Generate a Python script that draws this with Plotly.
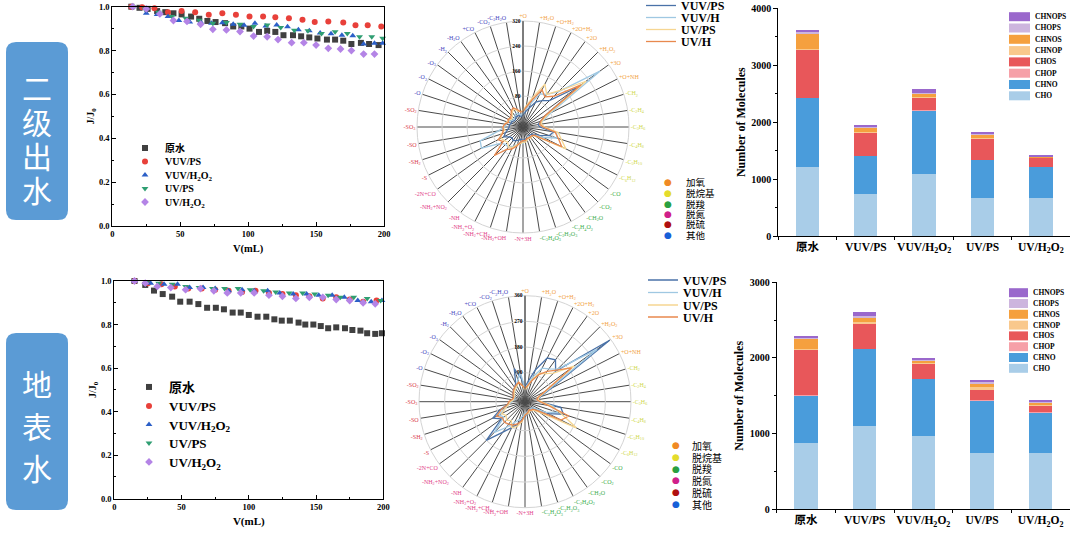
import re
import plotly.graph_objects as go

W, H = 1080, 535
SERIF = "Liberation Serif, Noto Sans CJK SC, serif"
CJK = "Noto Sans CJK SC"

# ---------------- flux decline data (二级出水) ----------------
sec_raw_v = [14, 20, 26, 33, 39, 45, 51, 58, 64, 70, 76, 83, 89, 95, 101, 108, 114, 120, 126, 133, 139, 145, 151, 158, 164, 170, 176, 183, 189, 196]
sec_raw_j = [1.0, 0.995, 0.99, 0.98, 0.975, 0.97, 0.965, 0.955, 0.945, 0.935, 0.93, 0.925, 0.91, 0.91, 0.9, 0.885, 0.89, 0.885, 0.87, 0.87, 0.865, 0.86, 0.855, 0.85, 0.85, 0.845, 0.83, 0.835, 0.83, 0.825]
sec_vuvps_v = [14, 22, 31, 41, 51, 61, 71, 81, 91, 101, 111, 120, 130, 140, 149, 159, 170, 179, 188, 198]
sec_vuvps_j = [1.0, 0.998, 0.993, 0.975, 0.98, 0.975, 0.963, 0.97, 0.963, 0.955, 0.955, 0.952, 0.947, 0.94, 0.93, 0.933, 0.928, 0.915, 0.915, 0.91]
sec_vuvh_v = [15, 25, 33, 41, 49, 57, 65, 73, 81, 89, 97, 105, 113, 121, 129, 137, 145, 153, 161, 169, 177, 185, 193, 199]
sec_vuvh_j = [1.0, 0.97, 0.965, 0.955, 0.937, 0.93, 0.93, 0.925, 0.927, 0.92, 0.915, 0.924, 0.912, 0.917, 0.909, 0.895, 0.89, 0.88, 0.877, 0.87, 0.868, 0.83, 0.833, 0.833]
sec_uvps_v = [15, 24, 34, 44, 54, 64, 74, 84, 94, 104, 114, 124, 134, 144, 154, 164, 173, 182, 191, 199]
sec_uvps_j = [1.0, 0.99, 0.975, 0.955, 0.947, 0.938, 0.925, 0.928, 0.92, 0.91, 0.917, 0.905, 0.893, 0.89, 0.878, 0.886, 0.878, 0.863, 0.863, 0.856]
sec_uvh_v = [15, 25, 35, 45, 55, 65, 74, 84, 94, 104, 114, 122, 132, 141, 150, 159, 168, 176, 185, 193]
sec_uvh_j = [1.0, 0.99, 0.967, 0.937, 0.933, 0.92, 0.897, 0.894, 0.887, 0.866, 0.863, 0.85, 0.836, 0.836, 0.825, 0.81, 0.807, 0.8, 0.784, 0.784]

# ---------------- flux decline data (地表水) ----------------
sur_raw_v = [15, 23, 29.5, 36, 43, 49, 56, 62.5, 69, 75.5, 81.5, 88, 94, 100, 106.5, 113, 119, 124.5, 130.5, 137, 142, 148, 153.5, 159, 165, 171.5, 177, 183, 188, 194, 199]
sur_raw_j = [1.0, 0.982, 0.956, 0.94, 0.928, 0.905, 0.905, 0.894, 0.877, 0.877, 0.87, 0.855, 0.855, 0.844, 0.836, 0.836, 0.824, 0.818, 0.818, 0.809, 0.8, 0.8, 0.793, 0.783, 0.787, 0.783, 0.775, 0.772, 0.76, 0.757, 0.76]
sur_vuvps_v = [15, 25, 35, 45, 55, 65, 75, 85, 95, 105, 115, 125, 135, 145, 155, 165, 175, 185, 195]
sur_vuvps_j = [1.0, 0.99, 0.985, 0.975, 0.965, 0.965, 0.96, 0.955, 0.95, 0.955, 0.945, 0.94, 0.935, 0.93, 0.92, 0.925, 0.915, 0.905, 0.91]
sur_vuvh_v = [15, 27, 37, 47, 56, 66, 75, 85, 95, 104, 114, 123, 133, 143, 152, 162, 171, 181, 191, 199]
sur_vuvh_j = [1.0, 0.99, 0.985, 0.985, 0.97, 0.97, 0.965, 0.955, 0.96, 0.955, 0.955, 0.945, 0.94, 0.94, 0.935, 0.935, 0.925, 0.91, 0.905, 0.91]
sur_uvps_v = [15, 24, 33, 43, 53, 63, 73, 82, 92, 101, 111, 120, 130, 140, 149, 159, 168, 178, 188, 198]
sur_uvps_j = [1.0, 0.995, 0.99, 0.985, 0.975, 0.97, 0.965, 0.965, 0.965, 0.96, 0.955, 0.95, 0.945, 0.945, 0.94, 0.935, 0.925, 0.925, 0.92, 0.91]
sur_uvh_v = [15, 23, 32, 42, 53, 64, 74, 84, 94, 104, 115, 125, 135, 145, 155, 165, 175, 185, 194]
sur_uvh_j = [1.0, 0.99, 0.975, 0.97, 0.96, 0.965, 0.955, 0.945, 0.945, 0.945, 0.935, 0.93, 0.92, 0.925, 0.925, 0.915, 0.91, 0.9, 0.895]

flux_names = ["原水", "VUV/PS", "VUV/H<sub>2</sub>O<sub>2</sub>", "UV/PS", "UV/H<sub>2</sub>O<sub>2</sub>"]

# ---------------- transformation radar data ----------------
trans_labels = ["+O", "+H2O", "+O+H2", "+2O+H2", "+2O", "+H2O2", "+3O", "+O+NH",
                "-CH2", "-C2H4", "-C3H6", "-C4H8", "-C5H10", "-C6H12",
                "-CO", "-CO2", "-CH2O", "-C2H4O2", "-C2H2O3", "-C3H4O3",
                "-N+3H", "-NH2+OH", "-NH2+CH2", "-NH2+O2", "-NH", "-NH2+NO2", "-2N+CO",
                "-S", "-SH2", "-SO", "-SO3", "-SO2",
                "-O", "-O2", "-O3", "-H2", "-H2O", "+CO", "-CO2", "-C2H2O"]
trans_groups = [0] * 8 + [1] * 6 + [2] * 6 + [3] * 7 + [4] * 5 + [5] * 8
group_names = ["加氧", "脱烷基", "脱羧", "脱氮", "脱硫", "其他"]

sec_r_vuvps = [20, 30, 45, 70, 85, 100, 200, 60, 40, 30, 35, 80, 70, 40, 20, 15, 15, 15, 20, 20,
               25, 20, 25, 30, 35, 30, 35, 50, 40, 30, 25, 25, 20, 20, 15, 15, 20, 20, 20, 15]
sec_r_vuvh = [25, 40, 60, 100, 110, 140, 285, 80, 50, 35, 45, 90, 95, 55, 25, 20, 20, 15, 25, 25,
              35, 30, 40, 50, 60, 60, 70, 130, 125, 60, 40, 35, 30, 25, 20, 20, 25, 30, 25, 20]
sec_r_uvps = [35, 50, 80, 135, 110, 145, 230, 70, 45, 40, 50, 95, 110, 135, 30, 20, 25, 20, 25, 30,
              30, 35, 40, 55, 60, 50, 55, 60, 55, 40, 45, 40, 35, 30, 25, 30, 40, 45, 35, 30]
sec_r_uvh = [30, 45, 70, 115, 100, 120, 210, 60, 40, 35, 45, 85, 100, 120, 25, 20, 20, 20, 20, 25,
             25, 30, 45, 60, 70, 110, 60, 70, 50, 45, 45, 40, 30, 35, 30, 35, 45, 50, 40, 30]

sur_r_vuvps = [40, 60, 105, 160, 170, 140, 355, 90, 45, 35, 40, 115, 130, 80, 30, 20, 20, 25, 25, 30,
               40, 50, 70, 90, 120, 180, 90, 115, 80, 50, 40, 30, 30, 35, 40, 45, 50, 60, 110, 70]
sur_r_vuvh = [35, 50, 80, 120, 130, 150, 300, 80, 40, 30, 35, 90, 110, 70, 25, 20, 20, 20, 25, 25,
              30, 40, 55, 70, 100, 140, 80, 90, 60, 45, 35, 30, 25, 30, 35, 40, 45, 50, 70, 90]
sur_r_uvps = [30, 40, 70, 100, 110, 130, 200, 70, 40, 35, 45, 80, 120, 190, 50, 30, 25, 25, 30, 30,
              35, 60, 80, 90, 70, 80, 70, 80, 60, 45, 40, 30, 30, 30, 35, 40, 45, 50, 60, 45]
sur_r_uvh = [35, 45, 65, 95, 120, 145, 190, 65, 35, 30, 40, 70, 150, 130, 40, 25, 25, 20, 25, 30,
             35, 55, 70, 80, 85, 90, 85, 100, 75, 50, 45, 35, 30, 35, 40, 45, 50, 55, 60, 45]

radar_names = ["VUV/PS", "VUV/H", "UV/PS", "UV/H"]

# ---------------- molecular formula counts ----------------
bar_categories = ["原水", "VUV/PS", "VUV/H<sub>2</sub>O<sub>2</sub>", "UV/PS", "UV/H<sub>2</sub>O<sub>2</sub>"]
formula_classes = ["CHO", "CHNO", "CHOP", "CHOS", "CHNOP", "CHNOS", "CHOPS", "CHNOPS"]

sec_CHO = [1220, 730, 1085, 675, 660]
sec_CHNO = [1200, 675, 1115, 660, 555]
sec_CHOP = [5, 5, 5, 5, 5]
sec_CHOS = [845, 395, 225, 360, 145]
sec_CHNOP = [15, 20, 20, 25, 10]
sec_CHNOS = [275, 80, 40, 55, 20]
sec_CHOPS = [30, 15, 15, 10, 5]
sec_CHNOPS = [30, 30, 75, 15, 10]

sur_CHO = [875, 1095, 975, 750, 740]
sur_CHNO = [625, 1025, 745, 685, 535]
sur_CHOP = [5, 5, 5, 5, 5]
sur_CHOS = [600, 325, 195, 145, 85]
sur_CHNOP = [15, 25, 10, 25, 15]
sur_CHNOS = [130, 60, 30, 55, 30]
sur_CHOPS = [15, 20, 20, 20, 15]
sur_CHNOPS = [15, 50, 25, 25, 15]

# ---------------- styles ----------------
flux_colors = ["#404040", "#E8403A", "#2B5FC7", "#2F9E72", "#B484E6"]
flux_symbols = ["square", "circle", "triangle-up", "triangle-down", "diamond"]
radar_colors = ["#4A72A8", "#9FC8E2", "#F6D692", "#E8894E"]
group_label_colors = ["#F2A245", "#CFD84E", "#3DAE4E", "#E2458A", "#D9404E", "#4848C0"]
group_dot_colors = ["#F08A24", "#E4DC2C", "#2AA040", "#D0208A", "#B01010", "#1860D8"]
class_colors = ["#A9CDE8", "#4A9CDB", "#F6A0A8", "#E8575A", "#F9C88C", "#F5A03E", "#CDB5DE", "#9A68CC"]


def px(x):
    return x / W


def py(y):
    return 1 - y / H


def subs(s):
    return re.sub(r"(?<=[A-Za-z])(\d+)", r"<sub>\1</sub>", s)


theta_html = [f'<span style="color:{group_label_colors[g]}">{subs(t)}</span>'
              for t, g in zip(trans_labels, trans_groups)]

fig = go.Figure()
legends = {}
counter = [0]


def new_legend(x_px, y_px, size, family=SERIF, weight="bold"):
    counter[0] += 1
    key = "legend" if counter[0] == 1 else f"legend{counter[0]}"
    legends[key] = dict(x=px(x_px), y=py(y_px), xanchor="left", yanchor="middle",
                        bgcolor="rgba(0,0,0,0)", borderwidth=0, itemwidth=30,
                        font=dict(family=family, size=size, color="black", weight=weight))
    return key


# ---- flux scatter panels ----
flux_sets = [
    ([sec_raw_v, sec_vuvps_v, sec_vuvh_v, sec_uvps_v, sec_uvh_v],
     [sec_raw_j, sec_vuvps_j, sec_vuvh_j, sec_uvps_j, sec_uvh_j], "x", "y",
     125, [148, 161.5, 175, 188.5, 202], 10, 6),
    ([sur_raw_v, sur_vuvps_v, sur_vuvh_v, sur_uvps_v, sur_uvh_v],
     [sur_raw_j, sur_vuvps_j, sur_vuvh_j, sur_uvps_j, sur_uvh_j], "x2", "y2",
     129, [387, 406, 424.5, 443, 462], 13, 6),
]
for vs, js, xa, ya, lx, lys, fs, ms in flux_sets:
    for i in range(5):
        key = new_legend(lx, lys[i], fs)
        fig.add_trace(go.Scatter(x=vs[i], y=js[i], mode="markers", name=flux_names[i],
                                 marker=dict(symbol=flux_symbols[i], color=flux_colors[i], size=ms),
                                 xaxis=xa, yaxis=ya, cliponaxis=False, legend=key))

# ---- radar panels ----
annotations = []
radar_sets = [
    ([sec_r_vuvps, sec_r_vuvh, sec_r_uvps, sec_r_uvh], "polar", 641, [5.5, 17.5, 29.5, 41.5],
     668, 684, [182, 193, 203.5, 214, 224.5, 235.5], 9.5),
    ([sur_r_vuvps, sur_r_vuvh, sur_r_uvps, sur_r_uvh], "polar2", 643, [280, 292.5, 305, 317],
     676, 690, [445, 457, 468.5, 480, 492, 504], 10),
]
for rs, sp, lx, lys, dx, tx, gys, gfs in radar_sets:
    for i in range(4):
        key = new_legend(lx, lys[i], 12)
        fig.add_trace(go.Scatterpolar(r=rs[i] + rs[i][:1], theta=theta_html + theta_html[:1],
                                      mode="lines", name=radar_names[i],
                                      line=dict(color=radar_colors[i], width=1.3),
                                      subplot=sp, legend=key))
    # legend of the transformation groups (label colours of the angular axis)
    for g in range(6):
        annotations.append(dict(text="●", xref="paper", yref="paper", x=px(dx), y=py(gys[g]),
                                xanchor="center", yanchor="middle", showarrow=False,
                                font=dict(family="DejaVu Sans", size=9, color=group_dot_colors[g])))
        annotations.append(dict(text=group_names[g], xref="paper", yref="paper", x=px(tx),
                                y=py(gys[g]), xanchor="left", yanchor="middle", showarrow=False,
                                font=dict(family=CJK, size=gfs, color="black")))

# ---- stacked bars ----
bar_sets = [
    ([sec_CHO, sec_CHNO, sec_CHOP, sec_CHOS, sec_CHNOP, sec_CHNOS, sec_CHOPS, sec_CHNOPS], "x3", "y3"),
    ([sur_CHO, sur_CHNO, sur_CHOP, sur_CHOS, sur_CHNOP, sur_CHNOS, sur_CHOPS, sur_CHNOPS], "x4", "y4"),
]
for counts, xa, ya in bar_sets:
    for k, cls in enumerate(formula_classes):
        fig.add_trace(go.Bar(x=bar_categories, y=counts[k], name=cls, width=0.4,
                             marker=dict(color=class_colors[k], line=dict(width=0)),
                             xaxis=xa, yaxis=ya, showlegend=False))

# ---- manual bar legends (swatch + label) ----
shapes = []
for y0, dy, x0, x1 in [(16.7, 11.3, 1009, 1030), (292.7, 10.8, 1009, 1028)]:
    for row, k in enumerate(reversed(range(len(formula_classes)))):
        yc = y0 + row * dy
        shapes.append(dict(type="rect", xref="paper", yref="paper",
                           x0=px(x0), x1=px(x1), y0=py(yc + 4.5), y1=py(yc - 4.5),
                           fillcolor=class_colors[k], line=dict(width=0)))
        annotations.append(dict(text=formula_classes[k], xref="paper", yref="paper",
                                x=px(x1 + 3), y=py(yc), xanchor="left", yanchor="middle",
                                showarrow=False,
                                font=dict(family=SERIF, size=7.5, color="black", weight="bold")))


# ---- blue side boxes ----
def rounded(x0, y0, x1, y1, r):
    rx, ry = r / W, r / H
    X0, X1, Y0, Y1 = px(x0), px(x1), py(y1), py(y0)
    return (f"M{X0 + rx},{Y1} L{X1 - rx},{Y1} Q{X1},{Y1} {X1},{Y1 - ry} "
            f"L{X1},{Y0 + ry} Q{X1},{Y0} {X1 - rx},{Y0} L{X0 + rx},{Y0} "
            f"Q{X0},{Y0} {X0},{Y0 + ry} L{X0},{Y1 - ry} Q{X0},{Y1} {X0 + rx},{Y1} Z")


for (y0, y1, chars, ys) in [(42, 220, "二级出水", [87, 121, 155, 189]),
                            (333, 510, "地表水", [383, 425, 467])]:
    shapes.append(dict(type="path", xref="paper", yref="paper", path=rounded(6, y0, 68, y1, 10),
                       fillcolor="#5B9BD5", line=dict(width=0), layer="below"))
    for ch, yc in zip(chars, ys):
        annotations.append(dict(text=ch, xref="paper", yref="paper", x=px(37), y=py(yc),
                                xanchor="center", yanchor="middle", showarrow=False,
                                font=dict(family=CJK, size=30, color="white")))

# ---- axes ----
tick_font = dict(family=SERIF, size=8.5, color="black", weight="bold")


def flux_xaxis(dom, anchor, tsize):
    return dict(domain=dom, anchor=anchor, range=[0, 200], tickvals=[0, 50, 100, 150, 200],
                ticks="inside", ticklen=4, tickcolor="black", showline=True, linecolor="black",
                linewidth=1, mirror=True, showgrid=False, zeroline=False, tickfont=tick_font,
                minor=dict(ticks="inside", ticklen=2, dtick=25, tickcolor="black"),
                title=dict(text="V(mL)", standoff=6,
                           font=dict(family=SERIF, size=tsize, color="black", weight="bold")))


def flux_yaxis(dom, anchor):
    return dict(domain=dom, anchor=anchor, range=[0, 1], dtick=0.2, tickformat=".1f",
                ticks="inside", ticklen=4, tickcolor="black", showline=True, linecolor="black",
                linewidth=1, mirror=True, showgrid=False, zeroline=False, tickfont=tick_font,
                minor=dict(ticks="inside", ticklen=2, dtick=0.1, tickcolor="black"),
                title=dict(text="J/J<sub>0</sub>", standoff=2,
                           font=dict(family=SERIF, size=10, color="black", weight="bold")))


def bar_xaxis(dom, anchor):
    return dict(domain=dom, anchor=anchor, type="category", range=[-0.5, 4.5], tickangle=0,
                showline=True, linecolor="black", linewidth=1, ticks="outside",
                tickson="boundaries", ticklen=3, tickcolor="black", showgrid=False,
                tickfont=dict(family=SERIF, size=11.5, color="black", weight="bold"))


def bar_yaxis(dom, anchor, top):
    return dict(domain=dom, anchor=anchor, range=[0, top], dtick=1000, showline=True,
                linecolor="black", linewidth=1, ticks="outside", ticklen=4, tickcolor="black",
                minor=dict(ticks="outside", ticklen=2, dtick=500, tickcolor="black"),
                showgrid=False, zeroline=False,
                tickfont=dict(family=SERIF, size=10, color="black", weight="bold"),
                title=dict(text="Number of Molecules", standoff=3,
                           font=dict(family=SERIF, size=12, color="black", weight="bold")))


def polar_cfg(domx, domy, rmin, rmax, tv):
    return dict(
        domain=dict(x=domx, y=domy), bgcolor="white",
        radialaxis=dict(range=[rmin, rmax], tickvals=tv, angle=90, tickangle=90,
                        side="counterclockwise", showline=True, linecolor="#555555",
                        linewidth=1, gridcolor="#d4d4d4", gridwidth=1, ticks="",
                        tickfont=dict(family=SERIF, size=5.5, color="black", weight="bold")),
        angularaxis=dict(type="category", categoryarray=theta_html, rotation=90,
                         direction="clockwise", gridcolor="#4a4a4a", gridwidth=1,
                         showline=True, linecolor="#d4d4d4", ticks="",
                         tickfont=dict(family=SERIF, size=6)),
    )


layout = dict(
    width=W, height=H, autosize=False,
    margin=dict(l=0, r=0, t=0, b=0, pad=0, autoexpand=False),
    paper_bgcolor="white", plot_bgcolor="white", barmode="stack",
    xaxis=flux_xaxis([px(112.3), px(384)], "y", 10.5),
    yaxis=flux_yaxis([py(226), py(6.7)], "x"),
    xaxis2=flux_xaxis([px(114.3), px(383.3)], "y2", 11),
    yaxis2=flux_yaxis([py(498.7), py(281)], "x2"),
    xaxis3=bar_xaxis([px(778.3), px(1070)], "y3"),
    yaxis3=bar_yaxis([py(236), py(8.3)], "x3", 4000),
    xaxis4=bar_xaxis([px(776.7), px(1070)], "y4"),
    yaxis4=bar_yaxis([py(509.3), py(282.3)], "x4", 3000),
    polar=polar_cfg([px(417), px(629)], [py(233), py(21)], -19, 320, [80, 160, 240, 320]),
    polar2=polar_cfg([px(419), px(631)], [py(507.7), py(295.7)], -12, 360, [90, 180, 270, 360]),
    shapes=shapes, annotations=annotations,
)
layout.update(legends)
fig.update_layout(**layout)
fig.write_html("out.html", config={"displayModeBar": False},
               post_script="document.body.style.margin='0';document.body.style.overflow='hidden';")
